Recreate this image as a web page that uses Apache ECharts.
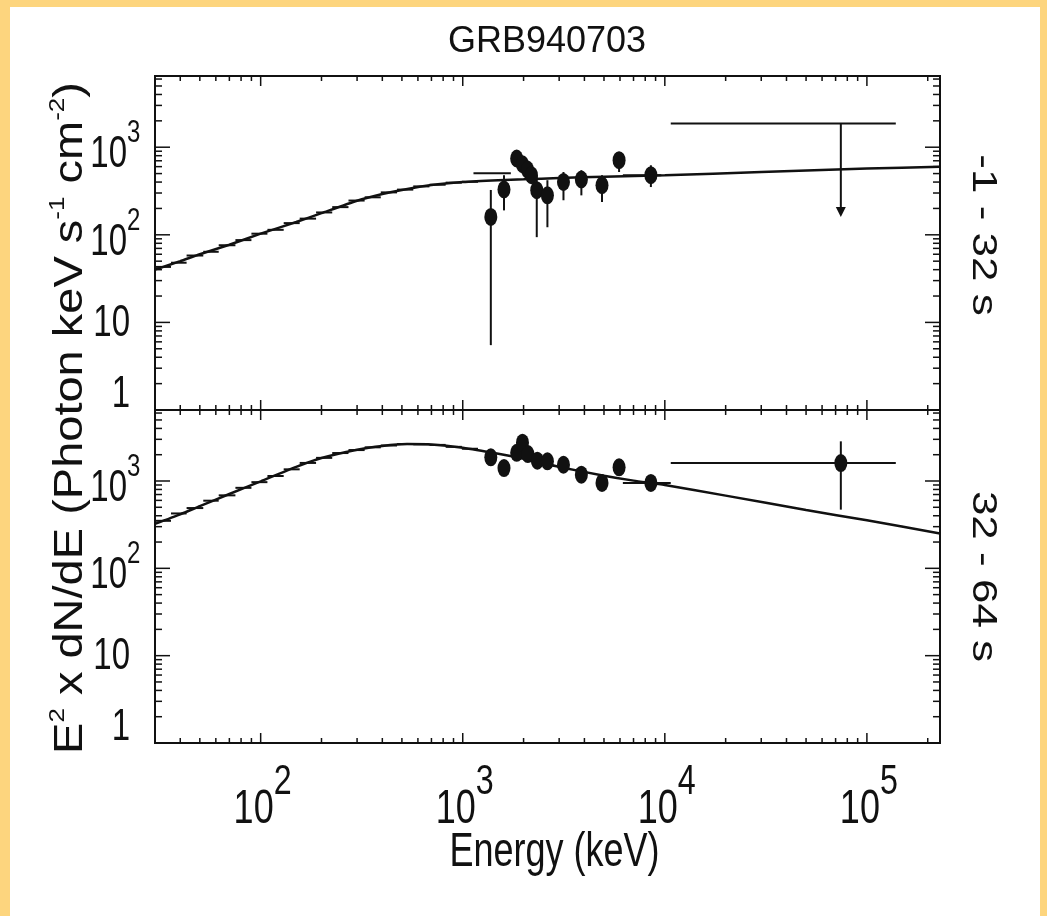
<!DOCTYPE html>
<html>
<head>
<meta charset="utf-8">
<title>GRB940703</title>
<script src="https://cdn.jsdelivr.net/npm/echarts@6/dist/echarts.min.js"></script>
<style>
  html, body { margin: 0; padding: 0; width: 1047px; height: 916px; background: #FDD57E; overflow: hidden; }
  #chart { position: absolute; left: 10px; top: 7px; width: 1030px; height: 909px; background: #ffffff; }
</style>
</head>
<body>
<div id="chart"></div>
<script>
// ---- Axis ticks (keV on x, E^2 dN/dE on y) ----
const energyTicks = [30, 40, 50, 60, 70, 80, 90,
  100, 200, 300, 400, 500, 600, 700, 800, 900,
  1000, 2000, 3000, 4000, 5000, 6000, 7000, 8000, 9000,
  10000, 20000, 30000, 40000, 50000, 60000, 70000, 80000, 90000,
  100000, 200000];
const fluxTicks = [1, 2, 3, 4, 5, 6, 7, 8, 9,
  10, 20, 30, 40, 50, 60, 70, 80, 90,
  100, 200, 300, 400, 500, 600, 700, 800, 900,
  1000, 2000, 3000, 4000, 5000, 6000];
const energyLabelExp = [2, 3, 4, 5];
const fluxLabelExp = [0, 1, 2, 3];

// ---- Text ----
const chartTitle = 'GRB940703';
const energyName = 'Energy (keV)';
const upperInterval = '-1 - 32 s';
const lowerInterval = '32 - 64 s';

// ---- Fitted spectral model, -1 to 32 s ----
const upperModelE = [30, 40, 50, 70, 100, 150, 200, 300, 400, 500, 700, 1000, 1500, 2000, 3000, 5000, 10000, 30000, 100000, 230000];
const upperModelV = [40, 50, 60, 77, 103, 140, 177, 245, 292, 325, 370, 400, 420, 430, 445, 460, 480, 520, 570, 600];

// ---- Fitted spectral model, 32 to 64 s ----
const lowerModelE = [30, 40, 50, 70, 100, 150, 200, 300, 400, 530, 700, 1000, 1500, 2000, 3000, 5000, 7000, 10000, 20000, 50000, 100000, 230000];
const lowerModelV = [323, 415, 515, 710, 990, 1450, 1830, 2280, 2520, 2650, 2620, 2400, 2050, 1800, 1450, 1150, 1010, 900, 680, 465, 355, 250];

// ---- Low-energy channel bins (edges in keV) and their fluxes ----
const ladEdges = [30, 36, 43, 52, 62, 75, 90, 108, 130, 156, 188, 226, 272, 327, 393, 473, 569, 684, 823, 990, 1190];
const ladUpper = [43, 48, 58, 64, 76, 87, 103, 114, 136, 153, 180, 207, 246, 268, 305, 328, 357, 373, 394, 403];
const ladLower = [350, 425, 490, 595, 685, 835, 970, 1140, 1360, 1610, 1840, 2090, 2260, 2430, 2550, 2650, 2630, 2590, 2460, 2340];
const upperExtraBin = [1130, 1730, 505];

// ---- Measured points, -1 to 32 s ----
const upperE  = [1377, 1600, 1849, 1975, 2091, 2188, 2324, 2624, 3151, 3864, 4888, 5938, 8531];
const upperV  = [160, 329, 743, 639, 556, 479, 323, 282, 401, 428, 368, 710, 479];
const upperLo = [5.5, 190, 620, 530, 460, 390, 94, 122, 248, 282, 237, 521, 351];
const upperHi = [325, 479, 880, 760, 660, 580, 470, 420, 521, 546, 479, 884, 622];
const upperEBins = [[6200, 9600, 479]];
// upper limit: [E, flux, E low, E high, arrow tip]
const upperLimit = [[74300, 1866, 10700, 139000, 160]];

// ---- Measured points, 32 to 64 s ----
const lowerE  = [1377, 1600, 1849, 1975, 2100, 2340, 2624, 3151, 3864, 4888, 5938, 8531, 74300];
const lowerV  = [1866, 1408, 2100, 2750, 2036, 1707, 1679, 1535, 1181, 949, 1435, 949, 1606];
const lowerLo = [1650, 1230, 1850, 2450, 1800, 1500, 1480, 1350, 1040, 830, 1260, 830, 470];
const lowerHi = [2100, 1600, 2380, 3050, 2300, 1930, 1900, 1740, 1340, 1080, 1630, 1080, 2845];
const lowerEBins = [[6200, 10700, 949], [10700, 139000, 1606]];

const INK = '#111111';
const FONT = "'Liberation Sans', Arial, Helvetica, sans-serif";
const SQUEEZE = 0.75;   // horizontally condensed lettering

function isDecade(v) {
  const l = Math.log10(v);
  return Math.abs(l - Math.round(l)) < 1e-6;
}

// tick marks on top and bottom edges of a panel
function energyTickItem(params, api) {
  const v = api.value(0);
  const len = isDecade(v) ? 10 : 5;
  const cs = params.coordSys;
  const px = api.coord([v, 1])[0];
  const st = { stroke: INK, lineWidth: 1.5 };
  return { type: 'group', children: [
    { type: 'line', shape: { x1: px, y1: cs.y, x2: px, y2: cs.y + len }, style: st },
    { type: 'line', shape: { x1: px, y1: cs.y + cs.height, x2: px, y2: cs.y + cs.height - len }, style: st }
  ] };
}
// tick marks on left and right edges of a panel
function fluxTickItem(params, api) {
  const v = api.value(1);
  const len = isDecade(v) ? 15 : 7;
  const cs = params.coordSys;
  const py = api.coord([100, v])[1];
  const st = { stroke: INK, lineWidth: 1.5 };
  return { type: 'group', children: [
    { type: 'line', shape: { x1: cs.x, y1: py, x2: cs.x + len, y2: py }, style: st },
    { type: 'line', shape: { x1: cs.x + cs.width, y1: py, x2: cs.x + cs.width - len, y2: py }, style: st }
  ] };
}
// horizontal bin bar: [E low, E high, flux]
function binItem(params, api) {
  const a = api.coord([api.value(0), api.value(2)]);
  const b = api.coord([api.value(1), api.value(2)]);
  return { type: 'line', shape: { x1: a[0], y1: a[1], x2: b[0], y2: b[1] }, style: { stroke: INK, lineWidth: 2 } };
}
// vertical error bar: [E, low, high]
function errItem(params, api) {
  const a = api.coord([api.value(0), api.value(1)]);
  const b = api.coord([api.value(0), api.value(2)]);
  return { type: 'line', shape: { x1: a[0], y1: a[1], x2: b[0], y2: b[1] }, style: { stroke: INK, lineWidth: 2 } };
}
// upper limit: horizontal bin, drop line and arrow head
function limitItem(params, api) {
  const E = api.value(0), v = api.value(1);
  const top = api.coord([E, v]);
  const tip = api.coord([E, api.value(4)]);
  const l = api.coord([api.value(2), v]);
  const r = api.coord([api.value(3), v]);
  return { type: 'group', children: [
    { type: 'line', shape: { x1: l[0], y1: l[1], x2: r[0], y2: r[1] }, style: { stroke: INK, lineWidth: 2 } },
    { type: 'line', shape: { x1: top[0], y1: top[1], x2: tip[0], y2: tip[1] - 8 }, style: { stroke: INK, lineWidth: 2 } },
    { type: 'polygon', shape: { points: [[tip[0] - 5, tip[1] - 10], [tip[0] + 5, tip[1] - 10], [tip[0], tip[1]]] }, style: { fill: INK } }
  ] };
}

function pairs(xs, ys) { return xs.map((x, i) => [x, ys[i]]); }
function bins(edges, vals) { return vals.map((v, i) => [edges[i], edges[i + 1], v]); }
function errs(xs, lo, hi) { return xs.map((x, i) => [x, lo[i], hi[i]]); }

function panelSeries(idx, modelE, modelV, binVals, pE, pV, pLo, pHi, pBins, limits) {
  const ax = { xAxisIndex: idx, yAxisIndex: idx };
  const list = [
    Object.assign({ type: 'custom', renderItem: energyTickItem, data: energyTicks.map(v => [v, 1]), encode: { x: 0, y: 1 }, silent: true, clip: false, z: 1 }, ax),
    Object.assign({ type: 'custom', renderItem: fluxTickItem, data: fluxTicks.map(v => [100, v]), encode: { x: 0, y: 1 }, silent: true, clip: false, z: 1 }, ax),
    Object.assign({ type: 'line', data: pairs(modelE, modelV), showSymbol: false, symbol: 'none', smooth: 0.2,
      lineStyle: { color: INK, width: 2.5 }, z: 2 }, ax),
    Object.assign({ type: 'custom', renderItem: binItem, data: bins(ladEdges, binVals), encode: { x: [0, 1], y: 2 }, z: 2 }, ax),
    Object.assign({ type: 'custom', renderItem: errItem, data: errs(pE, pLo, pHi), encode: { x: 0, y: [1, 2] }, z: 3 }, ax),
    Object.assign({ type: 'custom', renderItem: binItem, data: pBins, encode: { x: [0, 1], y: 2 }, z: 3 }, ax),
    Object.assign({ type: 'scatter', data: pairs(pE, pV), symbol: 'circle', symbolSize: [13, 18],
      itemStyle: { color: INK, opacity: 1 }, z: 4 }, ax)
  ];
  if (limits) {
    list.push(Object.assign({ type: 'custom', renderItem: limitItem, data: limits, encode: { x: [0, 2, 3], y: [1, 4] }, z: 3 }, ax));
  }
  return list;
}

const upperSeries = panelSeries(0, upperModelE, upperModelV, ladUpper, upperE, upperV, upperLo, upperHi,
  upperEBins.concat([upperExtraBin]), upperLimit);
const lowerSeries = panelSeries(1, lowerModelE, lowerModelV, ladLower, lowerE, lowerV, lowerLo, lowerHi,
  lowerEBins, null);

function axisX(gridIndex) {
  return {
    type: 'log', logBase: 10, gridIndex: gridIndex, min: 30, max: 230000,
    axisLine: { show: false }, axisTick: { show: false }, splitLine: { show: false }, axisLabel: { show: false }
  };
}
function axisY(gridIndex) {
  return {
    type: 'log', logBase: 10, gridIndex: gridIndex, min: 1, max: 6500,
    axisLine: { show: false }, axisTick: { show: false }, splitLine: { show: false }, axisLabel: { show: false }
  };
}

const chart = echarts.init(document.getElementById('chart'), null, { renderer: 'canvas' });
chart.setOption({
  animation: false,
  backgroundColor: '#ffffff',
  title: {
    text: chartTitle, left: 532, top: 12, textAlign: 'center',
    textStyle: { fontSize: 36, fontWeight: 'normal', fontFamily: FONT, color: INK }
  },
  grid: [
    { left: 145, top: 69, width: 785, height: 334, show: true, borderColor: INK, borderWidth: 2, backgroundColor: 'transparent', containLabel: false, outerBoundsMode: 'none' },
    { left: 145, top: 403, width: 785, height: 333, show: true, borderColor: INK, borderWidth: 2, backgroundColor: 'transparent', containLabel: false, outerBoundsMode: 'none' }
  ],
  xAxis: [axisX(0), axisX(1)],
  yAxis: [axisY(0), axisY(1)],
  series: upperSeries.concat(lowerSeries)
});

// ---- condensed tick labels and axis titles, placed from the axes' own scales ----
function txt(x, y, text, size, align, extra) {
  return Object.assign({
    type: 'text', x: x, y: y, scaleX: SQUEEZE, silent: true,
    style: { text: text, fontSize: size, fontFamily: FONT, fill: INK, align: align, verticalAlign: 'middle' }
  }, extra || {});
}

const labels = [];
// energy decades under the lower panel
const axisBottom = chart.convertToPixel({ yAxisIndex: 1 }, 1);
energyLabelExp.forEach(function (e) {
  const px = chart.convertToPixel({ xAxisIndex: 1 }, Math.pow(10, e));
  labels.push(txt(px + 13, axisBottom + 67, '10', 48, 'right'));
  labels.push(txt(px + 13, axisBottom + 39, String(e), 43, 'left'));
});
// flux decades on both panels
[0, 1].forEach(function (g) {
  const left = chart.convertToPixel({ xAxisIndex: g }, 30);
  fluxLabelExp.forEach(function (e) {
    const py = chart.convertToPixel({ yAxisIndex: g }, Math.pow(10, e));
    if (e === 0) {
      labels.push(txt(left - 25, py - 15, '1', 44, 'right'));
    } else if (e === 1) {
      labels.push(txt(left - 25, py + 1, '10', 44, 'right'));
    } else {
      labels.push(txt(left - 28, py + 8, '10', 44, 'right'));
      labels.push(txt(left - 28, py - 14, String(e), 32, 'left'));
    }
  });
});
// x axis title
const gridMid = (chart.convertToPixel({ xAxisIndex: 1 }, 30) + chart.convertToPixel({ xAxisIndex: 1 }, 230000)) / 2;
labels.push(txt(gridMid + 7, axisBottom + 110, energyName, 48, 'center'));

// y axis title, reading upward
labels.push({
  type: 'text', x: 61, y: 411, rotation: Math.PI / 2, scaleY: 0.85, silent: true,
  style: {
    text: '{b|E}{s|2}{b| x dN/dE (Photon keV s}{s|-1}{b| cm}{s|-2}{b|)}',
    align: 'center', verticalAlign: 'middle', fill: INK,
    rich: {
      b: { fontSize: 47, lineHeight: 47, fontFamily: FONT, fill: INK },
      s: { fontSize: 26, lineHeight: 26, fontFamily: FONT, fill: INK, padding: [0, 0, 30, 0] }
    }
  }
});
// interval captions, reading downward, centred on each panel
[[0, upperInterval], [1, lowerInterval]].forEach(function (p) {
  const top = chart.convertToPixel({ yAxisIndex: p[0] }, 6500);
  const bottom = chart.convertToPixel({ yAxisIndex: p[0] }, 1);
  labels.push({
    type: 'text', x: 973, y: (top + bottom) / 2 - (p[0] === 0 ? 8 : 0), rotation: -Math.PI / 2, scaleY: 0.8, silent: true,
    style: { text: p[1], fontSize: 44, fontFamily: FONT, fill: INK, align: 'center', verticalAlign: 'middle' }
  });
});

chart.setOption({ graphic: labels });
</script>
</body>
</html>
